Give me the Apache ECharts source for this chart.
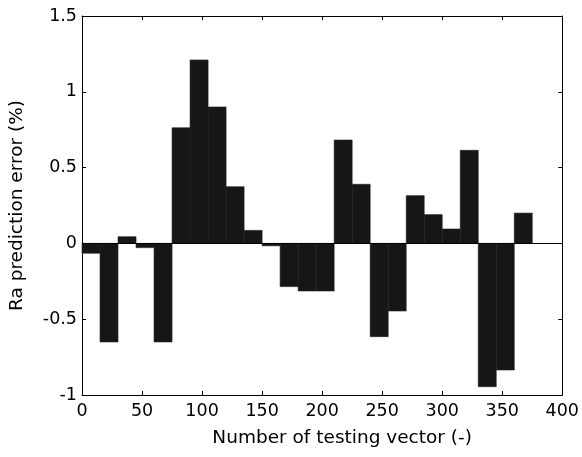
<!DOCTYPE html>
<html>
<head>
<meta charset="utf-8">
<script src="https://cdn.jsdelivr.net/npm/echarts@6/dist/echarts.min.js"></script>
<style>
html,body{margin:0;padding:0;background:#fff;}
#chart{width:582px;height:457px;}
</style>
</head>
<body>
<div id="chart"></div>
<script>
// Bin edges of each bar along "Number of testing vector"
const binStart = [0, 15, 30, 45, 60, 75, 90, 105, 120, 135, 150, 165, 180, 195, 210, 225, 240, 255, 270, 285, 300, 315, 330, 345, 360];
const binEnd   = [15, 30, 45, 60, 75, 90, 105, 120, 135, 150, 165, 180, 195, 210, 225, 240, 255, 270, 285, 300, 315, 330, 345, 360, 375];
// Ra prediction error (%)
const errors = [-0.065, -0.65, 0.044, -0.028, -0.65, 0.763, 1.21, 0.90, 0.374, 0.086, -0.016, -0.285, -0.314, -0.314, 0.682, 0.39, -0.615, -0.446, 0.315, 0.19, 0.095, 0.614, -0.945, -0.835, 0.20];
const xTicks = [0, 50, 100, 150, 200, 250, 300, 350, 400];
const yTicks = [-1, -0.5, 0, 0.5, 1, 1.5];

const FONT = 'DejaVu Sans';
const chart = echarts.init(document.getElementById('chart'), null, {renderer: 'canvas'});

const data = binStart.map((s, i) => [s, binEnd[i], errors[i]]);

const axisCommon = {
  type: 'value',
  axisLine: {show: true, onZero: false, lineStyle: {color: '#000', width: 1}},
  axisTick: {show: true, inside: true, length: 4, lineStyle: {color: '#000'}},
  splitLine: {show: false}
};

chart.setOption({
  animation: false,
  backgroundColor: '#fff',
  grid: {left: 82, right: 19, top: 16, bottom: 62, containLabel: false},
  xAxis: [
    Object.assign({}, axisCommon, {
      position: 'bottom', min: xTicks[0], max: xTicks[xTicks.length - 1], interval: 50,
      name: 'Number of testing vector (-)', nameLocation: 'middle', nameGap: 34,
      nameTextStyle: {fontFamily: FONT, fontSize: 18.5, color: '#000', padding: [0, 0, 0, 40]},
      axisLabel: {show: true, margin: 7, fontFamily: FONT, fontSize: 17.5, color: '#000'}
    }),
    Object.assign({}, axisCommon, {
      position: 'top', min: xTicks[0], max: xTicks[xTicks.length - 1], interval: 50,
      axisLabel: {show: false}
    })
  ],
  yAxis: [
    Object.assign({}, axisCommon, {
      position: 'left', min: yTicks[0], max: yTicks[yTicks.length - 1], interval: 0.5,
      name: 'Ra prediction error (%)', nameLocation: 'middle', nameGap: 55,
      nameTextStyle: {fontFamily: FONT, fontSize: 18.5, color: '#000'},
      axisLabel: {show: true, margin: 5, fontFamily: FONT, fontSize: 17.5, color: '#000'}
    }),
    Object.assign({}, axisCommon, {
      position: 'right', min: yTicks[0], max: yTicks[yTicks.length - 1], interval: 0.5,
      axisLabel: {show: false}
    })
  ],
  series: [{
    type: 'custom',
    xAxisIndex: 0,
    yAxisIndex: 0,
    data: data,
    encode: {x: [0, 1], y: 2},
    renderItem: function (params, api) {
      const p0 = api.coord([api.value(0), api.value(2)]);
      const p1 = api.coord([api.value(1), 0]);
      const x = p0[0];
      const w = p1[0] - p0[0];
      const y = Math.min(p0[1], p1[1]);
      const h = Math.abs(p1[1] - p0[1]);
      return {
        type: 'rect',
        shape: {x: x, y: y, width: w, height: h},
        style: {fill: '#161616', stroke: '#222', lineWidth: 0.6}
      };
    },
    markLine: {
      silent: true,
      symbol: 'none',
      label: {show: false},
      lineStyle: {color: '#000', width: 1, type: 'solid'},
      data: [{yAxis: 0}]
    }
  }]
});
</script>
</body>
</html>
